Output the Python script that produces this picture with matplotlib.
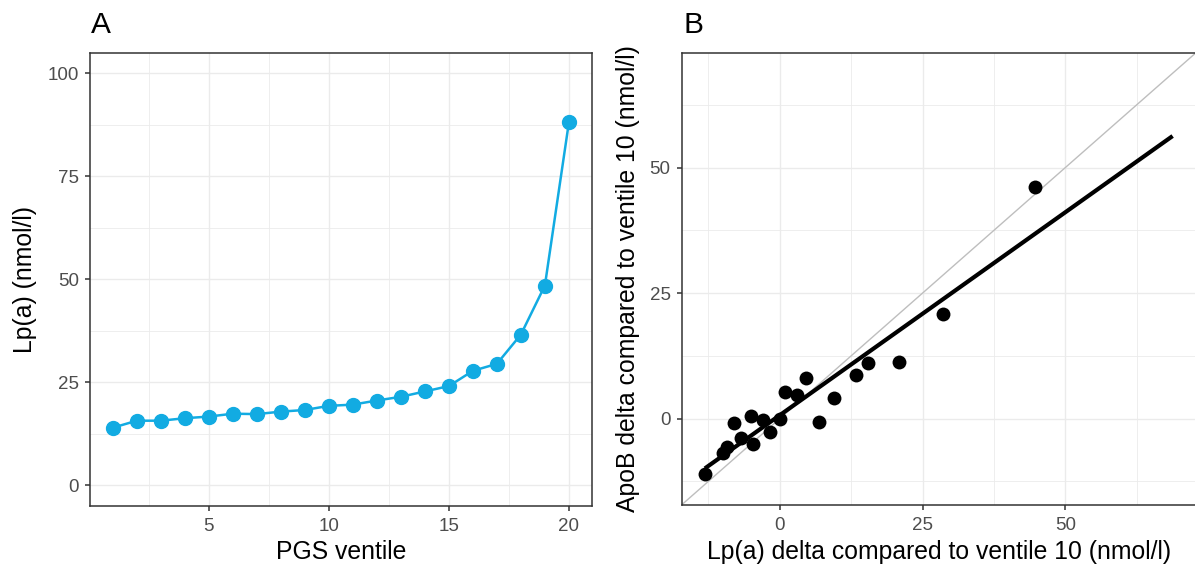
import numpy as np
import matplotlib
matplotlib.use("Agg")
import matplotlib.pyplot as plt
from matplotlib.ticker import MultipleLocator

plt.rcParams['font.family'] = ['Liberation Sans', 'DejaVu Sans']

# Panel A: mean Lp(a) per polygenic score ventile
ventile = list(range(1, 21))
lpa_nmol = [14.0, 15.7, 15.7, 16.3, 16.7, 17.4, 17.3, 17.9, 18.3, 19.3,
            19.6, 20.6, 21.5, 22.8, 24.1, 27.8, 29.5, 36.6, 48.5, 88.1]

# Panel B: differences relative to ventile 10
lpa_delta = [-13.13, -9.98, -9.17, -8.05, -6.82, -5.14, -4.71, -2.91, -1.73, 0.0,
             0.87, 3.04, 4.58, 6.94, 9.42, 13.38, 15.49, 20.88, 28.62, 44.73]
apob_delta = [-11.02, -6.79, -5.61, -0.86, -3.96, 0.46, -5.08, -0.33, -2.77, 0.0,
              5.28, 4.62, 8.11, -0.66, 4.09, 8.71, 11.08, 11.21, 20.78, 46.04]

W, H = 1195, 569
BLUE = '#12ABE2'
TICK_COL = '#4D4D4D'
BORDER_COL = '#333333'
GRID_COL = '#EBEBEB'
TITLE_SIZE = 17.8
TICK_SIZE = 13.5

fig = plt.figure(figsize=(W / 100, H / 100), dpi=100)


def px_axes(left, top, right, bottom):
    return fig.add_axes([left / W, 1 - bottom / H, (right - left) / W, (bottom - top) / H])


def style(ax, xmaj, xmin, ymaj, ymin):
    ax.set_facecolor('white')
    ax.xaxis.set_major_locator(MultipleLocator(xmaj))
    ax.xaxis.set_minor_locator(MultipleLocator(xmin))
    ax.yaxis.set_major_locator(MultipleLocator(ymaj))
    ax.yaxis.set_minor_locator(MultipleLocator(ymin))
    ax.grid(which='major', color=GRID_COL, lw=1.0, zorder=0)
    ax.grid(which='minor', color=GRID_COL, lw=0.6, zorder=0)
    ax.set_axisbelow(True)
    for s in ax.spines.values():
        s.set_color(BORDER_COL)
        s.set_linewidth(1.1)
    ax.tick_params(which='major', length=3.8, width=1.1, color=BORDER_COL,
                   labelcolor=TICK_COL, labelsize=TICK_SIZE)
    ax.tick_params(axis='x', which='major', pad=5.0)
    ax.tick_params(axis='y', which='major', pad=4.0)
    ax.tick_params(which='minor', length=0)


def padded(lo, hi, frac=0.05):
    d = (hi - lo) * frac
    return lo - d, hi + d


# ---- Panel A ----
axA = px_axes(90, 52.7, 591.7, 506)
style(axA, 5, 2.5, 25, 12.5)
axA.plot(ventile, lpa_nmol, color=BLUE, lw=1.8, marker='o', ms=10, zorder=3)
axA.set_xlim(*padded(min(ventile), max(ventile)))
axA.set_ylim(*padded(0, 100))

# ---- Panel B ----
axB = px_axes(681.5, 52.7, 1196, 505)
style(axB, 25, 12.5, 25, 12.5)
lim_lo = min(lpa_delta)
lim_hi = lpa_nmol[-1] - lpa_nmol[9]
lims = padded(lim_lo, lim_hi)
axB.set_xlim(*lims)
axB.set_ylim(*lims)
axB.plot(lims, lims, color='#BEBEBE', lw=1.0, zorder=2)
slope, intercept = np.polyfit(lpa_delta, apob_delta, 1)
xfit = np.array([lim_lo, lim_hi])
axB.plot(xfit, intercept + slope * xfit, color='black', lw=3.0,
         solid_capstyle='butt', zorder=3)
axB.scatter(lpa_delta, apob_delta, s=100, color='black', zorder=4, linewidths=0)

# ---- Titles and tags ----
fig.text(340.8 / W, 1 - 559 / H, 'PGS ventile', ha='center', va='baseline',
         fontsize=TITLE_SIZE)
fig.text(938.7 / W, 1 - 559 / H, 'Lp(a) delta compared to ventile 10 (nmol/l)',
         ha='center', va='baseline', fontsize=TITLE_SIZE)
fig.text(32 / W, 1 - 279.4 / H, 'Lp(a) (nmol/l)', ha='center', va='baseline',
         rotation=90, rotation_mode='anchor', fontsize=TITLE_SIZE)
fig.text(635 / W, 1 - 278.9 / H, 'ApoB delta compared to ventile 10 (nmol/l)',
         ha='center', va='baseline', rotation=90, rotation_mode='anchor',
         fontsize=TITLE_SIZE)
fig.text(90.5 / W, 1 - 33.3 / H, 'A', ha='left', va='baseline', fontsize=21.5)
fig.text(683 / W, 1 - 33.3 / H, 'B', ha='left', va='baseline', fontsize=21.5)

fig.savefig('out.png', dpi=100, facecolor='white')
